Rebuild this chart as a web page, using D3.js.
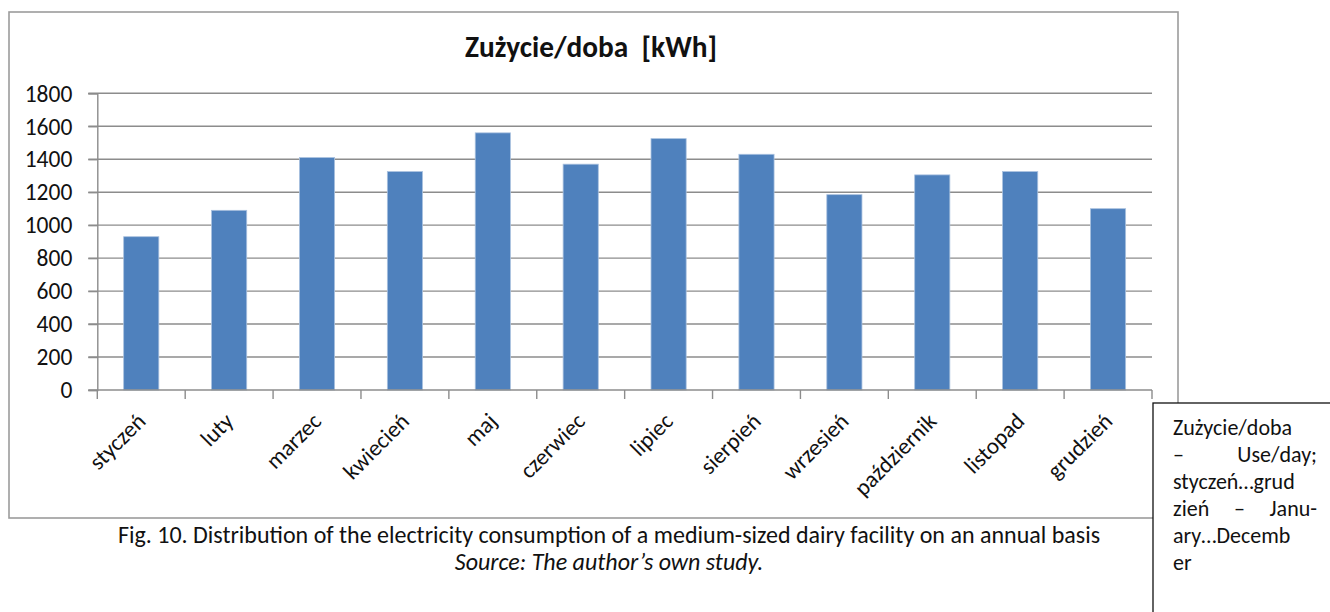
<!DOCTYPE html>
<html>
<head>
<meta charset="utf-8">
<script src="https://cdn.jsdelivr.net/npm/d3@7"></script>
<style>
  html, body { margin: 0; padding: 0; background: #fff; }
  svg { display: block; }
</style>
</head>
<body>
<svg id="chart" width="1330" height="612"></svg>
<script>
// ---- data ----
const categories = ["styczeń", "luty", "marzec", "kwiecień", "maj", "czerwiec",
                    "lipiec", "sierpień", "wrzesień", "październik", "listopad", "grudzień"];
const values = [930, 1090, 1410, 1325, 1560, 1370, 1525, 1430, 1185, 1305, 1325, 1100];
const yTicks = [0, 200, 400, 600, 800, 1000, 1200, 1400, 1600, 1800];
const chartTitle = "Zużycie/doba  [kWh]";
const captionLines = [
  "Fig. 10. Distribution of the electricity consumption of a medium-sized dairy facility on an annual basis",
  "Source: The author’s own study."
];
const noteLines = [
  ["Zużycie/doba"],
  ["–", "Use/day;"],
  ["styczeń…grud"],
  ["zień", "–", "Janu-"],
  ["ary…Decemb"],
  ["er"]
];

const FONT = "Carlito, Calibri, Lato, 'Open Sans', sans-serif";
const svg = d3.select("#chart");

function fitWidth(sel, target) {
  const fs = parseFloat(sel.attr("font-size"));
  const w = sel.node().getComputedTextLength();
  sel.attr("font-size", (fs * target / w).toFixed(2));
}

// ---- frame ----
svg.append("rect")
  .attr("x", 9).attr("y", 12).attr("width", 1169).attr("height", 506)
  .attr("fill", "#fff").attr("stroke", "#9c9c9c").attr("stroke-width", 1.6);

// ---- scales ----
const margin = { left: 97.3, right: 1152, top: 93.3, bottom: 390 };
const x = d3.scaleBand().domain(categories).range([margin.left, margin.right])
  .paddingInner(0.6).paddingOuter(0.3);
const xb = d3.scaleBand().domain(categories).range([margin.left, margin.right]);
const y = d3.scaleLinear().domain([0, 1800]).range([margin.bottom, margin.top]);

// ---- gridlines ----
svg.append("g").selectAll("line").data(yTicks.filter(d => d > 0)).join("line")
  .attr("x1", margin.left - 9).attr("x2", margin.right)
  .attr("y1", d => y(d)).attr("y2", d => y(d))
  .attr("stroke", "#8c8c8c").attr("stroke-width", 1.4);

// ---- y axis ----
const yAxis = svg.append("g").attr("transform", `translate(${margin.left},0)`)
  .call(d3.axisLeft(y).tickValues(yTicks).tickSize(9).tickPadding(16).tickFormat(d3.format("d")));
yAxis.select(".domain").attr("stroke", "#8c8c8c").attr("stroke-width", 1.4);
yAxis.selectAll(".tick line").attr("stroke", "#8c8c8c").attr("stroke-width", 1.4);
yAxis.selectAll(".tick text").attr("font-family", FONT).attr("font-size", 23.5)
  .attr("fill", "#111").attr("dy", "0.33em");

// ---- bars ----
svg.append("g").selectAll("rect").data(values).join("rect")
  .attr("x", (d, i) => x(categories[i]))
  .attr("width", x.bandwidth())
  .attr("y", d => y(d))
  .attr("height", d => y(0) - y(d))
  .attr("fill", "#4F81BD")
  .attr("stroke", "#a9c1df").attr("stroke-width", 0.8);

// ---- x axis ----
const xAxisG = svg.append("g");
xAxisG.append("line")
  .attr("x1", margin.left - 9).attr("x2", margin.right)
  .attr("y1", y(0)).attr("y2", y(0))
  .attr("stroke", "#8c8c8c").attr("stroke-width", 1.4);
const boundaries = categories.map(c => xb(c)).concat([xb(categories[categories.length - 1]) + xb.bandwidth()]);
xAxisG.selectAll("line.tk").data(boundaries).join("line").attr("class", "tk")
  .attr("x1", d => d).attr("x2", d => d)
  .attr("y1", y(0)).attr("y2", y(0) + 9)
  .attr("stroke", "#8c8c8c").attr("stroke-width", 1.4);
xAxisG.selectAll("text").data(categories).join("text")
  .attr("transform", d => `translate(${xb(d) + xb.bandwidth() / 2},${y(0) + 27}) rotate(-45)`)
  .attr("text-anchor", "end")
  .attr("dy", "0.35em")
  .attr("font-family", FONT).attr("font-size", 23).attr("fill", "#111")
  .text(d => d);

// ---- title ----
const title = svg.append("text")
  .attr("x", 591).attr("y", 57).attr("text-anchor", "middle")
  .attr("font-family", FONT).attr("font-weight", "bold").attr("font-size", 22)
  .attr("fill", "#111").attr("xml:space", "preserve").style("white-space", "pre")
  .text(chartTitle);
fitWidth(title, 252);

// ---- caption ----
const cap1 = svg.append("text")
  .attr("x", 609).attr("y", 543).attr("text-anchor", "middle")
  .attr("font-family", FONT).attr("font-size", 18).attr("fill", "#111")
  .text(captionLines[0]);
fitWidth(cap1, 982);
const cap2 = svg.append("text")
  .attr("x", 609).attr("y", 570).attr("text-anchor", "middle")
  .attr("font-family", FONT).attr("font-size", 18).attr("font-style", "italic").attr("fill", "#111")
  .text(captionLines[1]);
cap2.attr("font-size", cap1.attr("font-size"));

// ---- side note box (one justified paragraph) ----
svg.append("rect")
  .attr("x", 1153).attr("y", 403).attr("width", 200).attr("height", 230)
  .attr("fill", "#fff").attr("stroke", "#111").attr("stroke-width", 1.3);
const noteLeft = 1173, noteRight = 1317;
const noteFs = 22, noteLead = 27, noteTop = 435;
const probe = svg.append("text").attr("font-family", FONT).attr("font-size", noteFs);
const measure = w => { probe.text(w); return probe.node().getComputedTextLength(); };
const note = svg.append("text")
  .attr("font-family", FONT).attr("font-size", noteFs).attr("fill", "#111");
noteLines.forEach((words, li) => {
  const widths = words.map(measure);
  const gap = words.length > 1 ? (noteRight - noteLeft - d3.sum(widths)) / (words.length - 1) : 0;
  let cx = noteLeft;
  words.forEach((w, k) => {
    note.append("tspan").attr("x", cx).attr("y", noteTop + li * noteLead).text(w);
    cx += widths[k] + gap;
  });
});
probe.remove();
</script>
</body>
</html>
